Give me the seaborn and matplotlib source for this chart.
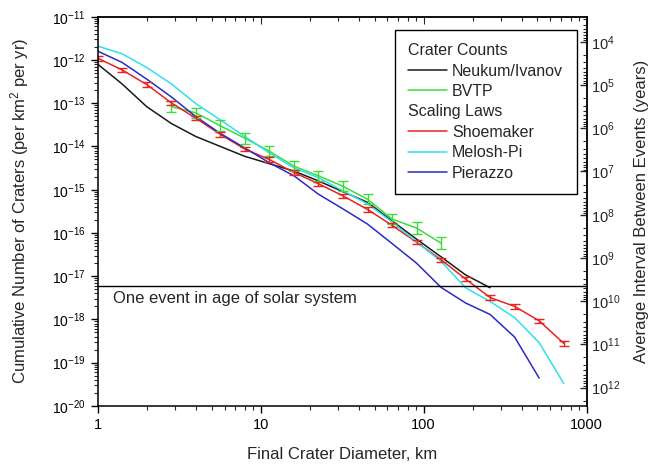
import numpy as np
import pandas as pd
import seaborn as sns
import matplotlib.pyplot as plt
from matplotlib.lines import Line2D
from matplotlib.ticker import LogLocator, NullFormatter, FixedLocator

# crater diameter grid (km), sqrt(2) steps
diam = [1, 1.41, 2, 2.83, 4, 5.66, 8, 11.3, 16, 22.6, 32, 45.3, 64, 90.5,
        128, 181, 256, 362, 512, 724]

# cumulative number of craters (per km^2 per yr)
neukum = [8.0e-13, 2.8e-13, 8.3e-14, 3.4e-14, 1.7e-14, 1.0e-14, 5.9e-15, 4.0e-15,
          2.7e-15, 1.6e-15, 9.0e-16, 5.1e-16, 1.9e-16, 7.2e-17, 2.8e-17, 1.07e-17, 5.4e-18]
bvtp = [8.3e-14, 6.0e-14, 3.0e-14, 1.55e-14, 7.8e-15, 3.5e-15, 2.1e-15, 1.2e-15,
        6.0e-16, 2.1e-16, 1.3e-16, 5.8e-17]
shoemaker = [1.1e-12, 5.9e-13, 2.7e-13, 1.02e-13, 4.5e-14, 1.9e-14, 8.7e-15, 5.0e-15,
             2.5e-15, 1.38e-15, 7.2e-16, 3.5e-16, 1.5e-16, 6.1e-17, 2.4e-17, 8.6e-18,
             3.2e-18, 2.0e-18, 9.3e-19, 2.8e-19]
melosh = [2.1e-12, 1.4e-12, 6.7e-13, 2.8e-13, 9.8e-14, 4.1e-14, 1.7e-14, 7.1e-15,
          3.2e-15, 1.9e-15, 9.4e-16, 4.7e-16, 1.8e-16, 6.2e-17, 2.2e-17, 5.4e-18,
          2.6e-18, 1.1e-18, 2.9e-19, 3.3e-20]
pierazzo = [1.6e-12, 8.8e-13, 3.6e-13, 1.4e-13, 4.9e-14, 2.0e-14, 9.2e-15, 4.2e-15,
            2.1e-15, 7.9e-16, 3.6e-16, 1.6e-16, 5.7e-17, 2.0e-17, 5.5e-18, 2.4e-18,
            1.3e-18, 3.9e-19, 4.4e-20]

# error bar half-widths in dex
bvtp_err = [0.13, 0.12, 0.13, 0.13, 0.12, 0.12, 0.12, 0.12, 0.12, 0.12, 0.13, 0.14]
shoemaker_err = [0.06, 0.05, 0.05, 0.05, 0.05, 0.05, 0.05, 0.05, 0.05, 0.05,
                 0.05, 0.05, 0.05, 0.05, 0.05, 0.05, 0.05, 0.05, 0.05, 0.06]

interval_ticks = [1e4, 1e5, 1e6, 1e7, 1e8, 1e9, 1e10, 1e11, 1e12]

moon_area = 3.79e7      # km^2
solar_age = 4.5e9       # yr

colors = {'Neukum/Ivanov': '#1a1a1a', 'BVTP': '#3ddc3d', 'Shoemaker': '#e8231f',
          'Melosh-Pi': '#2fe0ee', 'Pierazzo': '#2b2bc4'}

sns.set_style('ticks')
plt.rcParams['font.family'] = ['Liberation Sans', 'DejaVu Sans']
plt.rcParams['mathtext.fontset'] = 'custom'
plt.rcParams['mathtext.rm'] = 'Liberation Sans'
plt.rcParams['mathtext.it'] = 'Liberation Sans:italic'

fig = plt.figure(figsize=(6.65, 4.66), dpi=100)
fig.subplots_adjust(left=0.147, right=0.882, bottom=0.129, top=0.964)
ax = fig.add_subplot(111)

series = [('Neukum/Ivanov', neukum, 0), ('BVTP', bvtp, 3), ('Shoemaker', shoemaker, 0),
          ('Melosh-Pi', melosh, 0), ('Pierazzo', pierazzo, 0)]
for name, vals, start in series:
    xs = diam[start:start + len(vals)]
    sns.lineplot(x=xs, y=vals, color=colors[name], lw=1.1, ax=ax,
                 sort=False, estimator=None)

# error bars
for name, vals, errs, start in [('BVTP', bvtp, bvtp_err, 3),
                                 ('Shoemaker', shoemaker, shoemaker_err, 0)]:
    v = np.array(vals)
    e = np.array(errs)
    xs = diam[start:start + len(vals)]
    ax.errorbar(xs, v, yerr=[v - v * 10 ** -e, v * 10 ** e - v], fmt='none',
                ecolor=colors[name], elinewidth=1.0, capsize=3.5, capthick=1.0)

one_event = 1 / (solar_age * moon_area)
ax.axhline(one_event, color='black', lw=1.0)
ax.text(1.24, 3.1e-18, 'One event in age of solar system', fontsize=12,
        ha='left', va='center')

ax.set_xscale('log')
ax.set_yscale('log')
ax.set_xlim(1, 1000)
ax.set_ylim(1e-20, 1e-11)
ax.xaxis.set_major_locator(LogLocator(base=10, numticks=10))
ax.xaxis.set_minor_locator(LogLocator(base=10, subs=np.arange(2, 10), numticks=10))
ax.yaxis.set_major_locator(LogLocator(base=10, numticks=20))
ax.yaxis.set_minor_locator(LogLocator(base=10, subs=np.arange(2, 10), numticks=20))
ax.yaxis.set_minor_formatter(NullFormatter())
ax.xaxis.set_minor_formatter(NullFormatter())
ax.xaxis.set_major_formatter(plt.FuncFormatter(lambda v, p: '%d' % v))

ax.tick_params(which='major', direction='out', length=5, width=1, labelsize=10.5,
               colors='black')
ax.tick_params(axis='y', which='major', labelsize=10)
ax.tick_params(which='minor', direction='out', length=3, width=0.8)
for s in ax.spines.values():
    s.set_linewidth(1.1)
    s.set_color('black')
    s.set_visible(True)

ax.set_xlabel('Final Crater Diameter, km', fontsize=12, labelpad=11)
ax.set_ylabel('Cumulative Number of Craters (per km$^2$ per yr)', fontsize=12, labelpad=15)

# top ticks (inward)
top = ax.secondary_xaxis('top')
top.xaxis.set_major_locator(LogLocator(base=10, numticks=10))
top.xaxis.set_minor_locator(LogLocator(base=10, subs=np.arange(2, 10), numticks=10))
top.tick_params(which='both', direction='in', labeltop=False)
top.tick_params(which='major', length=5)
top.tick_params(which='minor', length=3, width=0.8)
top.spines['top'].set_linewidth(1.1)

# right axis: average interval between events
right = ax.secondary_yaxis('right', functions=(lambda n: 1 / (n * moon_area),
                                               lambda t: 1 / (t * moon_area)))
right.yaxis.set_major_locator(FixedLocator(interval_ticks))
right.yaxis.set_minor_locator(LogLocator(base=10, subs=np.arange(2, 10), numticks=20))
right.yaxis.set_minor_formatter(NullFormatter())
right.tick_params(which='major', direction='in', length=5, width=1, labelsize=10.5, pad=3)
right.tick_params(which='minor', direction='in', length=3, width=0.8)
right.spines['right'].set_linewidth(1.1)
right.set_ylabel('Average Interval Between Events (years)', fontsize=12, labelpad=10)

# legend with group headers
blank = Line2D([], [], color='none')
handles = [blank,
           Line2D([], [], color=colors['Neukum/Ivanov'], lw=1.1),
           Line2D([], [], color=colors['BVTP'], lw=1.1),
           blank,
           Line2D([], [], color=colors['Shoemaker'], lw=1.1),
           Line2D([], [], color=colors['Melosh-Pi'], lw=1.1),
           Line2D([], [], color=colors['Pierazzo'], lw=1.1)]
labels = ['Crater Counts', 'Neukum/Ivanov', 'BVTP', 'Scaling Laws',
          'Shoemaker', 'Melosh-Pi', 'Pierazzo']
headers = ['Crater Counts', 'Scaling Laws']
legend_fs = 11.5
pad = 0.35
leg = ax.legend(handles, labels, loc='upper right', bbox_to_anchor=(0.980, 0.967),
                borderaxespad=0, fontsize=legend_fs, frameon=True, fancybox=False,
                edgecolor='black', framealpha=1, handlelength=2.4,
                handletextpad=pad, labelspacing=0.34, borderpad=0.85)
leg.get_frame().set_linewidth(1.0)
for col in leg._legend_handle_box.get_children():
    for row in col.get_children():
        hbox, tbox = row.get_children()
        if tbox.get_children()[0].get_text() in headers:
            hbox.set_width(-pad * legend_fs)

fig.savefig('out.png', dpi=100)
